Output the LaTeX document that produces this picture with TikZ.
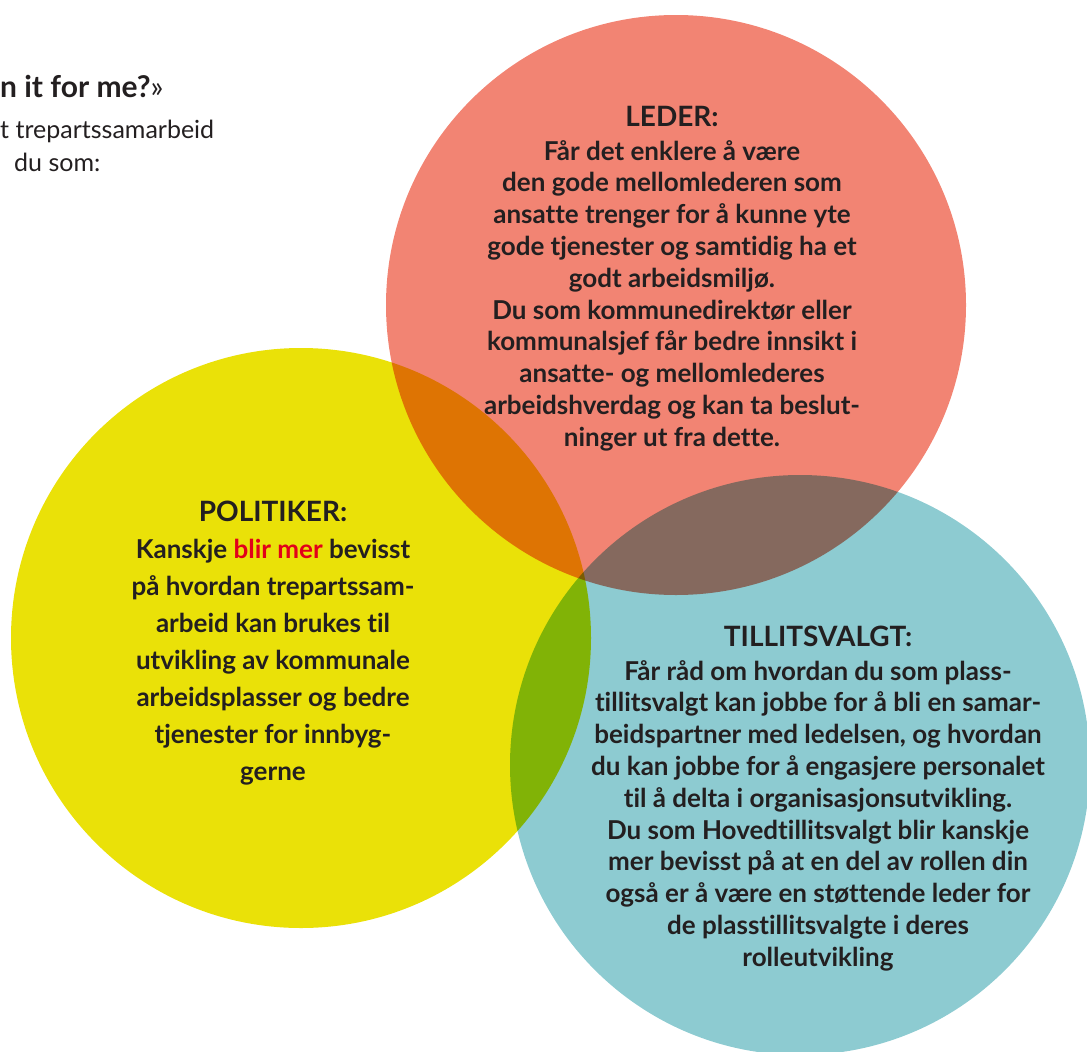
\documentclass[tikz,border=0pt]{standalone}
\usepackage{fontspec}
\setmainfont{Lato}[Ligatures=NoCommon]
\usetikzlibrary{positioning}

\definecolor{ledred}{RGB}{242,132,115}
\definecolor{polyellow}{RGB}{234,225,8}
\definecolor{tvcyan}{RGB}{141,203,209}
\definecolor{ink}{RGB}{35,31,32}
\definecolor{markred}{RGB}{226,0,26}

\tikzset{
  ring/.style={circle,minimum size=580pt,inner sep=0pt,draw=none},
  heading/.style={anchor=base,text=ink,inner sep=0pt,font=\fontsize{28}{30}\selectfont\bfseries},
  bodytext/.style={anchor=north,align=center,text=ink,inner sep=0pt,font=\fontsize{26}{31.8}\selectfont\bfseries},
}

\begin{document}
\begin{tikzpicture}[x=1pt,y=-1pt]
                            % \draw[help lines,step=50] (0,0) grid (1087,1052);
                            \useasboundingbox (0,0) rectangle (1087,1052);

                            \begin{scope}[blend mode=multiply]
                              \node[ring,fill=ledred]    (c_led) at (676,305) {};
                              \node[ring,fill=polyellow] (c_pol) at (301,638) {};
                              \node[ring,fill=tvcyan]    (c_tv)  at (800,765) {};
                            \end{scope}

                            \node[anchor=base west,text=ink,inner sep=0pt,font=\fontsize{30}{34}\selectfont\bfseries]
                                  (ask) at (0,97) {n it for me?{\mdseries»}};
                            \node[anchor=base west,text=ink,inner sep=0pt,font=\fontsize{25}{28}\selectfont]
                                  (intro1) at (0,138) {t trepartssamarbeid};
                            \node[anchor=base west,text=ink,inner sep=0pt,font=\fontsize{25}{28}\selectfont]
                                  (intro2) at (14,171) {du som:};

                            \node[heading] (leder) at (672,126) {LEDER:};
                            \node[bodytext] (ledertxt) at (672,140)
                                  {Får det enklere å være\\
                                   den gode mellomlederen som\\
                                   ansatte trenger for å kunne yte\\
                                   gode tjenester og samtidig ha et\\
                                   godt arbeidsmiljø.\\
                                   Du som kommunedirektør eller\\
                                   kommunalsjef får bedre innsikt i\\
                                   ansatte- og mellomlederes\\
                                   arbeidshverdag og kan ta beslut-\\
                                   ninger ut fra dette.};

                            \node[heading] (politiker) at (273,521) {POLITIKER:};
                            \node[bodytext,font=\fontsize{26}{37}\selectfont\bfseries] (poltxt) at (273,539)
                                  {Kanskje \textcolor{markred}{blir mer} bevisst\\
                                   på hvordan trepartssam-\\
                                   arbeid kan brukes til\\
                                   utvikling av kommunale\\
                                   arbeidsplasser og bedre\\
                                   tjenester for innbyg-\\
                                   gerne};

                            \node[heading] (tillit) at (818,646) {TILLITSVALGT:};
                            \node[bodytext] (tvtxt) at (818,660)
                                  {Får råd om hvordan du som plass-\\
                                   tillitsvalgt kan jobbe for å bli en samar-\\
                                   beidspartner med ledelsen, og hvordan\\
                                   du kan jobbe for å engasjere personalet\\
                                   til å delta i organisasjonsutvikling.\\
                                   Du som Hovedtillitsvalgt blir kanskje\\
                                   mer bevisst på at en del av rollen din\\
                                   også er å være en støttende leder for\\
                                   de plasstillitsvalgte i deres\\
                                   rolleutvikling};
                        \end{tikzpicture}
\end{document}
